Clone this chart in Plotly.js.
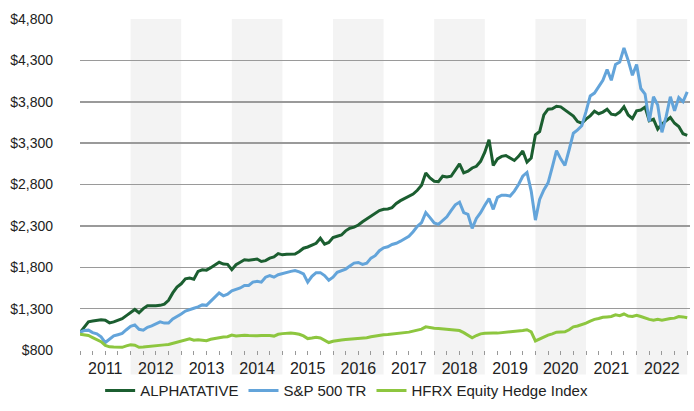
<!DOCTYPE html>
<html><head><meta charset="utf-8">
<script src="https://cdn.plot.ly/plotly-3.0.1.min.js"></script>
<style>html,body{margin:0;padding:0;background:#fff}#chart{width:694px;height:411px}</style>
</head><body><div id="chart"></div>
<script>
const startYear = 2011;
const years = [2011, 2012, 2013, 2014, 2015, 2016, 2017, 2018, 2019, 2020, 2021, 2022];
const yTicks = [800, 1300, 1800, 2300, 2800, 3300, 3800, 4300, 4800];
const seriesNames = ['ALPHATATIVE', 'S&P 500 TR', 'HFRX Equity Hedge Index'];

// monthly values, growth of $1,000
const alphatative = [
  1010,1080,1140,1150,1158,1165,1160,1128,1140,1158,1178,1215,
  1250,1290,1250,1300,1335,1332,1335,1340,1355,1400,1490,1560,
  1600,1660,1670,1655,1750,1770,1765,1795,1830,1860,1838,1835,
  1770,1830,1860,1890,1885,1895,1900,1870,1880,1910,1925,1965,
  1950,1958,1955,1960,1990,2030,2045,2070,2090,2150,2080,2100,
  2160,2175,2190,2240,2272,2285,2310,2350,2385,2420,2460,2485,
  2500,2505,2520,2570,2605,2630,2660,2685,2730,2790,2940,2880,
  2840,2835,2900,2890,2900,2980,3050,2940,2960,3000,3020,3080,
  3190,3340,3030,3110,3140,3150,3120,3090,3140,3205,3070,3120,
  3400,3440,3640,3710,3715,3745,3738,3700,3660,3627,3560,3540,
  3590,3630,3685,3655,3675,3710,3650,3640,3675,3740,3640,3595,
  3690,3700,3735,3570,3590,3470,3530,3570,3610,3540,3500,3414,
  3394
];
const sp500 = [
  1015,1035,1040,1010,995,960,890,935,970,985,1000,1045,
  1085,1103,1050,1040,1075,1092,1118,1140,1125,1125,1175,1200,
  1235,1270,1290,1305,1320,1345,1340,1390,1440,1490,1455,1475,
  1515,1528,1550,1580,1580,1620,1630,1620,1680,1700,1680,1710,
  1725,1735,1750,1760,1745,1720,1620,1690,1735,1735,1700,1642,
  1680,1740,1755,1778,1815,1850,1858,1835,1850,1910,1940,2000,
  2035,2048,2075,2090,2115,2145,2175,2230,2295,2340,2460,2400,
  2335,2318,2370,2410,2485,2555,2585,2460,2440,2270,2390,2460,
  2550,2630,2500,2645,2670,2670,2660,2720,2800,2900,2945,2720,
  2370,2620,2735,2820,3010,3210,3110,3030,3220,3420,3460,3510,
  3680,3870,3905,3975,4060,4190,4060,4250,4280,4450,4300,4120,
  4250,3960,3893,3560,3860,3760,3430,3620,3860,3690,3850,3800,
  3920
];
const hfrx = [
  990,985,975,950,925,900,855,838,835,830,832,850,
  862,858,832,835,842,848,850,858,862,866,880,895,
  912,920,935,918,925,918,912,930,942,955,958,960,
  980,970,975,978,975,972,972,976,978,974,968,990,
  998,1003,1006,1000,990,970,938,945,955,945,920,890,
  905,918,922,926,930,936,940,944,948,960,970,980,
  985,988,992,998,1000,1008,1016,1028,1038,1052,1080,1070,
  1064,1060,1056,1052,1050,1046,1035,1010,975,948,975,995,
  1003,1008,1005,1004,1008,1012,1014,1018,1025,1035,1045,1020,
  910,935,960,980,995,1015,1018,1020,1045,1080,1090,1105,
  1125,1150,1170,1180,1195,1200,1205,1225,1215,1235,1210,1205,
  1220,1205,1185,1170,1160,1170,1160,1172,1180,1185,1205,1200,
  1190
];

const monthX = alphatative.map((_, i) => startYear + i / 12);
const xEnd = years[years.length - 1] + 1.055;

const colors = ['#1b5e30', '#63a4da', '#8dc63f'];
const traces = [alphatative, sp500, hfrx].map((vals, k) => ({
  type: 'scatter', mode: 'lines', name: seriesNames[k],
  x: monthX, y: vals,
  line: {color: colors[k], width: 3}
}));

// quarter ticks, labels at mid-year
const tickvals = [], ticktext = [];
years.forEach(y => {
  [0, 0.25, 0.5, 0.75].forEach(q => {
    tickvals.push(y + q);
    ticktext.push(q === 0.5 ? String(y) : '');
  });
});
tickvals.push(years[years.length - 1] + 1);
ticktext.push('');

const shapes = years.filter((y, i) => i % 2 === 1).map(y => ({
  type: 'rect', layer: 'below', xref: 'x', yref: 'paper',
  x0: y, x1: Math.min(y + 1, xEnd), y0: -0.074, y1: 1,
  fillcolor: '#f3f3f3', line: {width: 0}
}));

const layout = {
  width: 694, height: 411,
  margin: {l: 80, r: 4, t: 19, b: 48},
  paper_bgcolor: '#fff', plot_bgcolor: 'rgba(0,0,0,0)',
  font: {family: 'Liberation Sans, Arial, sans-serif', color: '#222', size: 14},
  showlegend: true,
  legend: {orientation: 'h', x: 0.033, xanchor: 'left', y: -0.123, yanchor: 'middle',
           font: {size: 15, color: '#222'}, bgcolor: 'rgba(0,0,0,0)', itemwidth: 30},
  xaxis: {
    range: [startYear, xEnd], tickmode: 'array', tickvals: tickvals, ticktext: ticktext,
    ticks: 'outside', ticklen: 4, tickcolor: '#999', tickwidth: 1,
    showgrid: false, zeroline: false, showline: false,
    tickfont: {size: 16, color: '#222'}
  },
  yaxis: {
    range: [800, 4800], tickmode: 'array', tickvals: yTicks,
    ticktext: yTicks.map(v => '$' + v.toLocaleString('en-US')),
    showgrid: true, gridcolor: '#9a9a9a', gridwidth: 1.5, zeroline: false, showline: false,
    ticks: '', ticklabelstandoff: 26, tickfont: {size: 14, color: '#222'}
  },
  shapes: shapes
};

Plotly.newPlot('chart', traces, layout, {staticPlot: true, displayModeBar: false});
</script>
</body></html>
